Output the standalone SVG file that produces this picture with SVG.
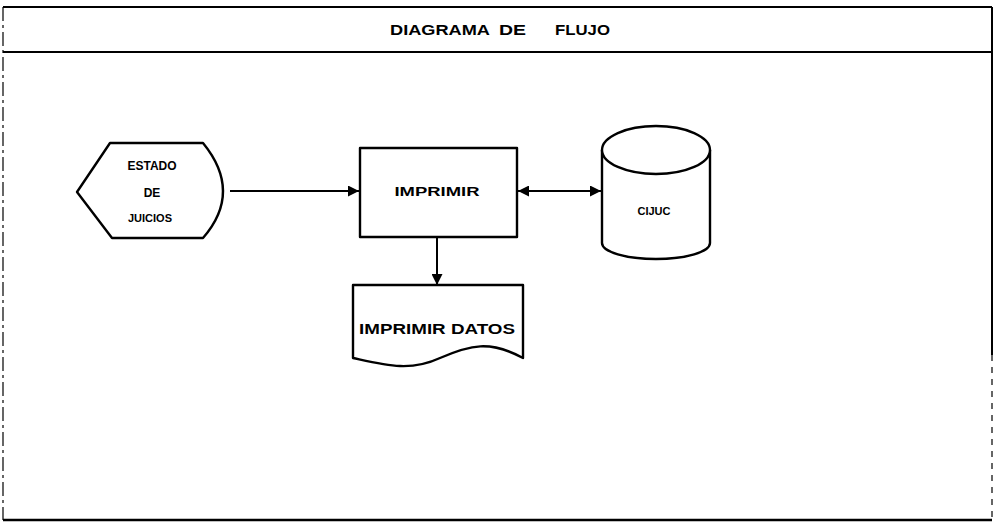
<svg xmlns="http://www.w3.org/2000/svg" width="996" height="527" viewBox="0 0 996 527">
<style>
.shape{fill:#fff;stroke:#000;stroke-width:2.4;stroke-linejoin:round}
.conn{fill:none;stroke:#000;stroke-width:2}
.lbl{font-family:"Liberation Sans",Arial,sans-serif;font-weight:bold;font-size:12px;fill:#000;text-anchor:middle}
</style>
<defs>
<marker id="ah" viewBox="0 0 10 10" refX="10" refY="5" markerWidth="7.5" markerHeight="5.5" markerUnits="strokeWidth" orient="auto-start-reverse">
<path d="M0,0 L10,5 L0,10 Z" fill="#000"/>
</marker>
</defs>
<rect width="996" height="527" fill="#fff"/>
<g id="frame">
<line x1="3" y1="7" x2="992" y2="7" stroke="#000" stroke-width="2"/>
<line x1="3" y1="52" x2="992" y2="52" stroke="#000" stroke-width="2"/>
<line x1="3" y1="520" x2="992" y2="520" stroke="#000" stroke-width="2.5"/>
<line x1="3" y1="7" x2="3" y2="520" stroke="#000" stroke-width="1.2" stroke-dasharray="14 4 3 4"/>
<line x1="992" y1="7" x2="992" y2="355" stroke="#000" stroke-width="2"/>
<line x1="992" y1="355" x2="992" y2="520" stroke="#000" stroke-width="1.2" stroke-dasharray="6 6"/>
<text class="lbl" y="35" style="text-anchor:start;font-size:14px"><tspan x="390" textLength="100" lengthAdjust="spacingAndGlyphs">DIAGRAMA</tspan><tspan x="499" textLength="27" lengthAdjust="spacingAndGlyphs">DE</tspan><tspan x="555" textLength="55" lengthAdjust="spacingAndGlyphs">FLUJO</tspan></text>
</g>
<g id="connectors">
<line class="conn" x1="230" y1="191" x2="359" y2="191" marker-end="url(#ah)"/>
<line class="conn" x1="518" y1="191" x2="601" y2="191" marker-start="url(#ah)" marker-end="url(#ah)"/>
<line class="conn" x1="437" y1="237" x2="437" y2="285" marker-end="url(#ah)"/>
</g>
<g id="estado">
<path class="shape" d="M110,143 L203,143 Q243,192 203,238 L112,238 L77,192 Z"/>
<text class="lbl" x="152" y="170">ESTADO</text>
<text class="lbl" x="152" y="197">DE</text>
<text class="lbl" x="150" y="222" style="font-size:11px">JUICIOS</text>
</g>
<g id="imprimir">
<rect class="shape" x="360" y="148" width="157" height="89"/>
<text class="lbl" x="437" y="196" style="font-size:13px" textLength="85" lengthAdjust="spacingAndGlyphs">IMPRIMIR</text>
</g>
<g id="cijuc">
<path class="shape" d="M602,150 L602,243 A54,16 0 0 0 710,243 L710,150"/>
<ellipse class="shape" cx="656" cy="150" rx="54" ry="24"/>
<text class="lbl" x="654" y="215" style="font-size:11px">CIJUC</text>
</g>
<g id="datos">
<path class="shape" d="M353,285 L523,285 L523,358 C490,340 470,345 440,358 C410,372 385,365 353,358 Z"/>
<text class="lbl" x="437" y="334" style="font-size:14px" textLength="156" lengthAdjust="spacingAndGlyphs">IMPRIMIR DATOS</text>
</g>
</svg>
